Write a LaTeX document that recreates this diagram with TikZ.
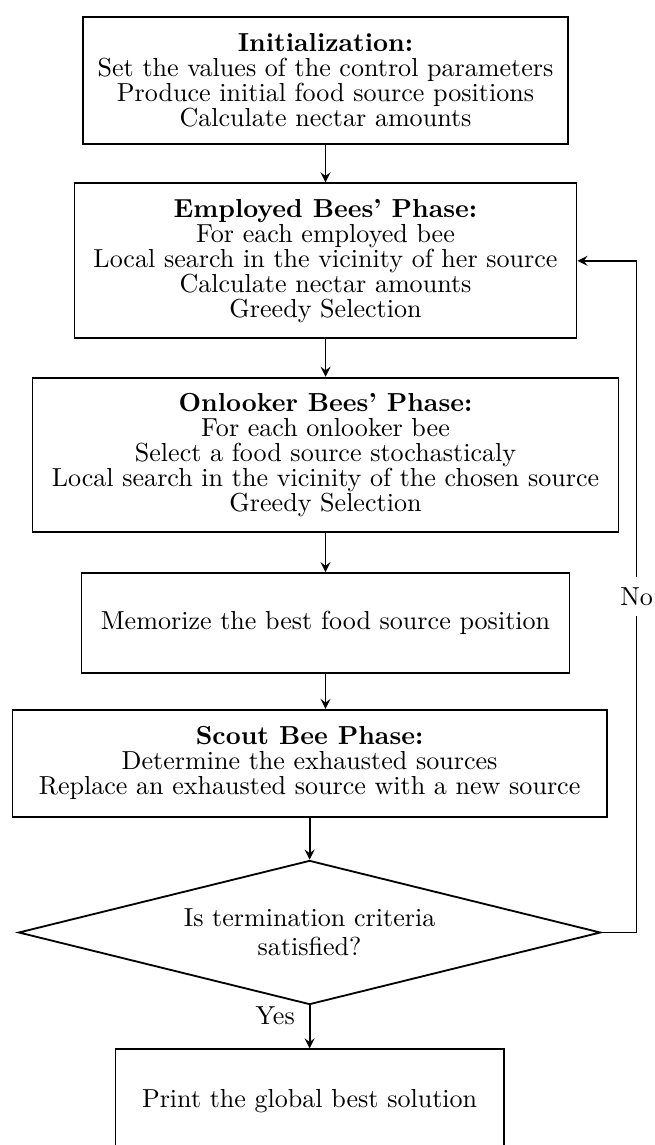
\documentclass[tikz,border=0pt]{standalone}
\usepackage{amsmath,amssymb}
\usepackage{tikz}
\usetikzlibrary{positioning,shapes.geometric}

\begin{document}
\begin{tikzpicture}[
x = 0.3838pt, y = 0.3838pt,
node distance = 14.4pt,
phase/.style={rectangle, draw=black, line width=0.7pt, align=center, inner sep=2pt, font=\fontsize{10}{9.6}\selectfont},
check/.style={diamond, draw=black, line width=0.7pt, align=center, aspect=4, inner sep=0pt, font=\fontsize{10}{11}\selectfont},
flow/.style={-stealth, line width=0.7pt},
tag/.style={font=\fontsize{10}{12}\selectfont}]

\useasboundingbox (0,0) rectangle (654,-1145);

\node[phase, minimum width=186pt, minimum height=48.7pt] (init) at (325.5,-80.5) {\textbf{Initialization:}\\ Set the values of the control parameters\\ Produce initial food source positions\\ Calculate nectar amounts};
\node[phase, minimum width=192.7pt, minimum height=59.5pt] (employed) [below = of init] {\textbf{Employed Bees' Phase:}\\ For each employed bee\\ Local search in the vicinity of her source\\ Calculate nectar amounts\\ Greedy Selection};
\node[phase, minimum width=224.9pt, minimum height=59.1pt] (onlooker) [below = of employed] {\textbf{Onlooker Bees' Phase:}\\ For each onlooker bee\\ Select a food source stochasticaly\\ Local search in the vicinity of the chosen source\\ Greedy Selection};
\node[phase, minimum width=187.3pt, minimum height=38.4pt] (memorize) [below = 15.2pt of onlooker] {Memorize the best food source position};
\node[phase, minimum width=228pt, minimum height=41.1pt] (scout) [below = 13.4pt of memorize, xshift=-6.1pt] {\textbf{Scout Bee Phase:}\\ Determine the exhausted sources\\ Replace an exhausted source with a new source};
\node[check, minimum width=223.4pt, minimum height=55.3pt] (cond) [below = 16pt of scout] {Is termination criteria\\ satisfied?};
\node[phase, minimum width=149pt, minimum height=40pt] (print) [below = 16.5pt of cond] {Print the global best solution};

\draw[flow] (init) -- (employed);
\draw[flow] (employed) -- (onlooker);
\draw[flow] (onlooker) -- (memorize);
\draw[flow] (memorize.south) -- (memorize.south |- scout.north);
\draw[flow] (scout) -- (cond);
\draw[flow] (cond.south) -- node[tag, left, pos=0.25, xshift=-2pt] {Yes} (print.north);
\draw[flow] (cond.east) -- ++(35,0) |- node[tag, pos=0.25, fill=white, inner sep=4pt] {No} (employed.east);
\end{tikzpicture}
\end{document}
